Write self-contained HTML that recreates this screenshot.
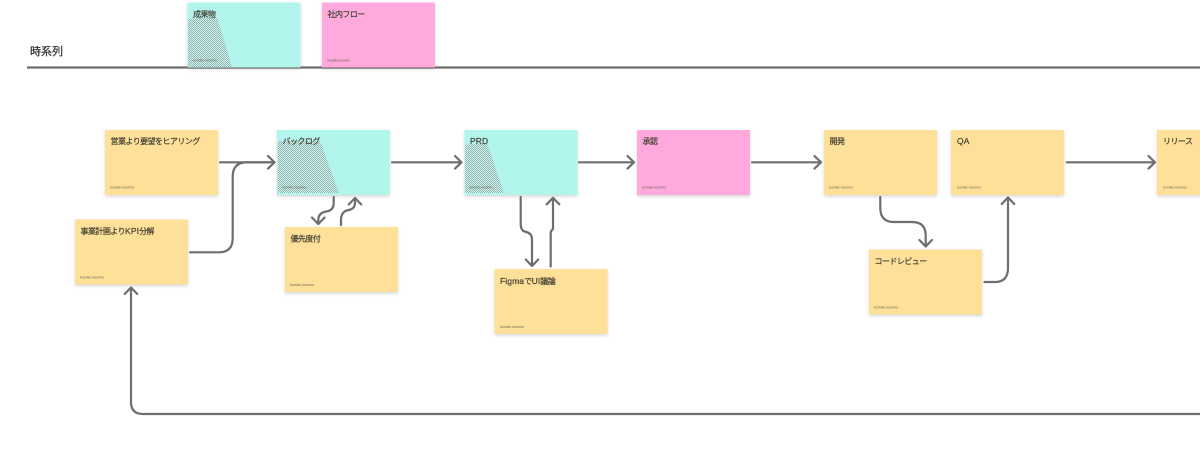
<!DOCTYPE html>
<html lang="ja"><head><meta charset="utf-8"><style>
html,body{margin:0;padding:0;background:#fff;width:1200px;height:451px;overflow:hidden}
svg{display:block}
.t{font-family:"Liberation Sans","Noto Sans CJK JP",sans-serif;font-size:8px;fill:#4a4538;stroke:#4a4538;stroke-width:.22px;letter-spacing:-.55px}
.t .n{letter-spacing:.1px;font-size:8.500px}
.s{font-family:"Liberation Sans",sans-serif;font-size:3.600px;fill:#6d6a5c}
.l{fill:none;stroke:#6e6e6e;stroke-width:2.200;stroke-linecap:round;stroke-linejoin:round}
.y{fill:#ffe099}.b{fill:#b2f5ec}.p{fill:#ffa9dc}
.c rect{filter:url(#sh)}
</style></head><body>
<svg width="1200" height="451" viewBox="0 0 1200 451" xmlns="http://www.w3.org/2000/svg">
<defs>
<filter id="sh" x="-10%" y="-10%" width="120%" height="130%"><feDropShadow dx="0" dy="1.500" stdDeviation="1.500" flood-color="#000" flood-opacity=".16"/></filter>
<pattern id="h" width="2" height="2" patternUnits="userSpaceOnUse"><rect width="2" height="2" fill="#d3f3ee"/><rect width="1" height="1" fill="#8fb5b1"/><rect x="1" y="1" width="1" height="1" fill="#8fb5b1"/></pattern>
</defs>
<text x="30" y="55" font-family="'Liberation Sans','Noto Sans CJK JP',sans-serif" font-size="11" fill="#333" stroke="#333" stroke-width=".25">時系列</text>
<path d="M27 67.500H1200" class="l" style="stroke-linecap:butt"/>
<g class="c">
<rect class="b" x="187.500" y="2.500" width="113" height="65"/>
<rect class="p" x="322" y="2.500" width="113" height="65"/>
<rect class="y" x="105" y="130" width="113" height="65"/>
<rect class="b" x="277" y="130" width="113" height="65"/>
<rect class="b" x="464.500" y="130" width="113" height="65"/>
<rect class="p" x="637" y="130" width="113" height="65"/>
<rect class="y" x="824" y="130" width="113" height="65"/>
<rect class="y" x="951" y="130" width="113" height="65"/>
<rect class="y" x="1157" y="130" width="113" height="65"/>
<rect class="y" x="75" y="219.500" width="113" height="65"/>
<rect class="y" x="285" y="227" width="113" height="65"/>
<rect class="y" x="494.500" y="269" width="113" height="65"/>
<rect class="y" x="869" y="249.500" width="113" height="65"/>
</g>
<polygon fill="url(#h)" points="188,19 217,17 232,67 188,67"/>
<polygon fill="url(#h)" points="278,141 320,141 339,193 278,193"/>
<polygon fill="url(#h)" points="465,145 487,143 504,193 465,193"/>
<g class="t">
<text x="193" y="17">成果物</text><text x="327.500" y="17">社内フロー</text>
<text x="110.500" y="144">営業より要望をヒアリング</text><text x="282.500" y="144">バックログ</text>
<text x="470" y="144" class="n">PRD</text><text x="642.500" y="144">承認</text>
<text x="829.500" y="144">開発</text><text x="957" y="144" class="n">QA</text>
<text x="1163" y="144">リリース</text><text x="80.500" y="234">事業計画より<tspan class="n">KPI</tspan>分解</text>
<text x="290.500" y="241.500">優先度付</text><text x="500" y="284"><tspan class="n">Figma</tspan>で<tspan class="n">UI</tspan>議論</text>
<text x="874.500" y="264">コードレビュー</text>
</g>
<g class="s">
<text x="193" y="61.500">kumiko koshiro</text><text x="327" y="61.500">mayikoyoyaka</text>
<text x="110" y="188.500">kumiko koshiro</text><text x="282.500" y="188.500">kumiko koshiro</text>
<text x="469.500" y="188.500">kumiko koshiro</text><text x="642" y="188.500">kumiko koshiro</text>
<text x="829" y="188.500">kumiko koshiro</text><text x="957" y="188.500">kumiko koshiro</text>
<text x="1163" y="188.500">kumiko koshiro</text><text x="80" y="278.500">kumiko koshiro</text>
<text x="290" y="286">kumiko koshiro</text><text x="500" y="328">kumiko koshiro</text>
<text x="874" y="308.500">kumiko koshiro</text>
</g>
<g class="l">
<path d="M220 162.300H274M268 156l6.500 6.300-6.500 6.300"/>
<path d="M190 252.300H219Q232.700 252.300 232.700 238V176.500Q232.700 162.300 247 162.300H270"/>
<path d="M392 162.300H461.500M455 156l6.500 6.300-6.500 6.300"/>
<path d="M579 162.300H634M627.500 156l6.500 6.300-6.500 6.300"/>
<path d="M752 162.300H821M814.500 156l6.500 6.300-6.500 6.300"/>
<path d="M1066.700 162.300H1155M1148.500 156l6.500 6.300-6.500 6.300"/>
<path d="M880.300 197V208Q880.300 222 894 222H912Q925.700 222 925.700 235.500V246.500M919.400 240l6.300 6.500 6.300-6.500"/>
<path d="M984.500 282H995Q1008 282 1008 268V197.500M1001.700 204l6.300-6.500 6.300 6.500"/>
<path d="M333.700 197V203Q333.700 210.500 326 211.500Q318.300 213 318.300 220V224M312 217.500l6.300 6.500 6.300-6.500"/>
<path d="M341 225V220Q341 211 349 210Q355 208.500 355 203V198M348.700 204.500l6.300-6.500 6.300 6.500"/>
<path d="M520.700 197V224Q520.700 231 526 232Q532 233 532 240V266M525.700 259.500l6.300 6.500 6.300-6.500"/>
<path d="M550.700 266.500V233Q550.700 231 553 229V197.800M546.700 204.300l6.300-6.500 6.300 6.500"/>
<path d="M1200 414H143Q131 414 131 402V287.500M124.700 294l6.300-6.500 6.300 6.500"/>
</g>
</svg>
</body></html>
